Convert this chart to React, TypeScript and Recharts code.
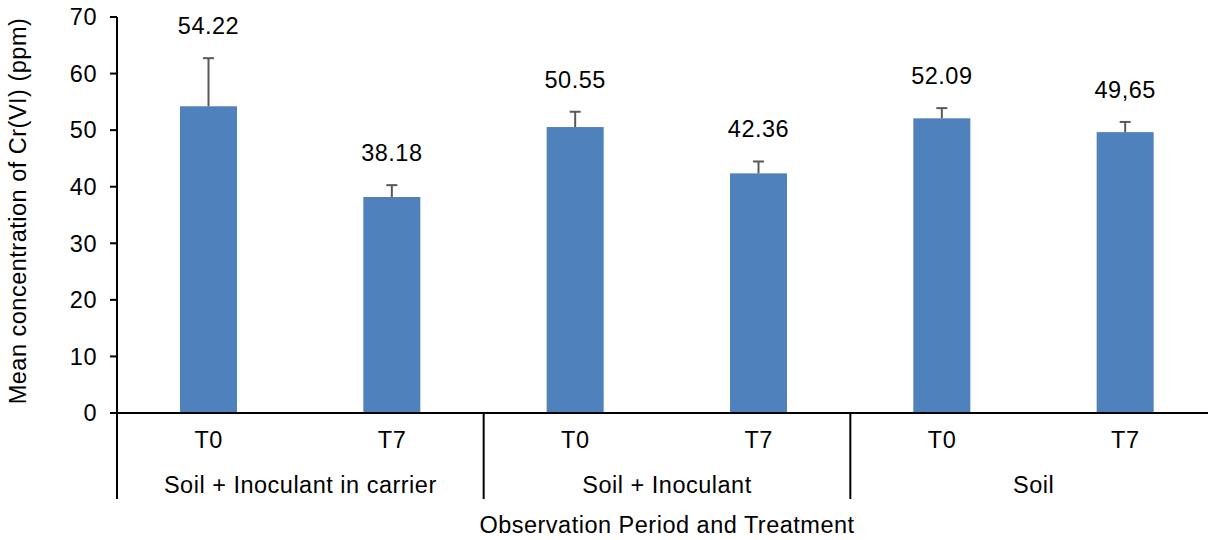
import React from 'react';
import { BarChart, Bar, XAxis, YAxis } from 'recharts';

// values
const periods = ['T0', 'T7', 'T0', 'T7', 'T0', 'T7'];
const treatments = [
  'Soil + Inoculant in carrier',
  'Soil + Inoculant in carrier',
  'Soil + Inoculant',
  'Soil + Inoculant',
  'Soil',
  'Soil',
];
const means = [54.22, 38.18, 50.55, 42.36, 52.09, 49.65];
const meanLabels = ['54.22', '38.18', '50.55', '42.36', '52.09', '49,65'];
const upperErrors = [8.5, 2.1, 2.7, 2.1, 1.8, 1.8];
const yTicks = [0, 10, 20, 30, 40, 50, 60, 70];

const data = means.map((m, i) => ({
  id: String(i),
  period: periods[i],
  treatment: treatments[i],
  mean: m,
  err: upperErrors[i],
  label: meanLabels[i],
}));

const FONT = '"Liberation Sans", Arial, sans-serif';
const FS = 23.5;
const LS = 0.5;

function BarWithError(props: any) {
  const { x, y, width, height, payload } = props;
  if (!payload || !height) return null;
  const perUnit = height / payload.mean;
  const top = y - payload.err * perUnit;
  const cx = x + width / 2;
  return (
    <g>
      <rect x={x} y={y} width={width} height={height} fill="#4F81BD" />
      <line x1={cx} x2={cx} y1={y} y2={top} stroke="#595959" strokeWidth={2} />
      <line x1={cx - 5.5} x2={cx + 5.5} y1={top} y2={top} stroke="#595959" strokeWidth={2} />
      <text x={cx} y={top - 24} textAnchor="middle" fontFamily={FONT} fontSize={FS} letterSpacing={LS} fill="#000">
        {payload.label}
      </text>
    </g>
  );
}

function GroupTick(props: any) {
  const { x, y, payload, index, width } = props;
  const i = Number(payload?.value ?? index);
  let half = payload?.offset;
  if (!half) half = width ? width / data.length / 2 : 91.7;
  const row = data[i];
  if (!row) return null;
  const sep = (sx: number) => (
    <line x1={sx} x2={sx} y1={y} y2={y + 86} stroke="#000" strokeWidth={2} />
  );
  return (
    <g>
      <text x={x} y={y + 35} textAnchor="middle" fontFamily={FONT} fontSize={FS} letterSpacing={LS} fill="#000">
        {row.period}
      </text>
      {i % 2 === 0 && sep(x - half)}
      {i === data.length - 1 && sep(x + half)}
      {i % 2 === 1 && (
        <text x={x - half} y={y + 80} textAnchor="middle" fontFamily={FONT} fontSize={FS} letterSpacing={LS} fill="#000">
          {row.treatment}
        </text>
      )}
    </g>
  );
}

export default function App() {
  return (
    <div
      style={{
        position: 'absolute',
        left: 0,
        top: 0,
        width: 1208,
        height: 540,
        overflow: 'hidden',
        background: '#fff',
      }}
    >
      <BarChart
        width={1217}
        height={540}
        data={data}
        margin={{ top: 17, right: 0, bottom: 0, left: 0 }}
      >
        <XAxis
          dataKey="id"
          height={127}
          interval={0}
          tickLine={false}
          tickSize={0}
          tickMargin={0}
          axisLine={{ stroke: '#000', strokeWidth: 2 }}
          tick={<GroupTick />}
          label={{
            content: ({ viewBox }: any) => (
              <text
                x={viewBox.x + viewBox.width / 2}
                y={viewBox.y + 120}
                textAnchor="middle"
                fontFamily={FONT}
                fontSize={FS}
                letterSpacing={LS}
                fill="#000"
              >
                Observation Period and Treatment
              </text>
            ),
          }}
        />
        <YAxis
          width={117}
          domain={[0, 70]}
          ticks={yTicks}
          interval={0}
          tickSize={7}
          tickMargin={13}
          axisLine={{ stroke: '#000', strokeWidth: 2 }}
          tickLine={{ stroke: '#000', strokeWidth: 2 }}
          tick={{ fill: '#000', fontSize: FS, fontFamily: FONT, letterSpacing: LS }}
          label={{
            content: ({ viewBox }: any) => {
              const lx = viewBox.x + 18;
              const ly = viewBox.y + viewBox.height / 2 - 4;
              return (
                <text
                  x={lx}
                  y={ly}
                  transform={`rotate(-90 ${lx} ${ly})`}
                  textAnchor="middle"
                  dominantBaseline="central"
                  fontFamily={FONT}
                  fontSize={FS}
                  letterSpacing={LS}
                  fill="#000"
                >
                  Mean concentration of Cr(VI) (ppm)
                </text>
              );
            },
          }}
        />
        <Bar dataKey="mean" barSize={57} fill="#4F81BD" shape={<BarWithError />} isAnimationActive={false} />
      </BarChart>
    </div>
  );
}
